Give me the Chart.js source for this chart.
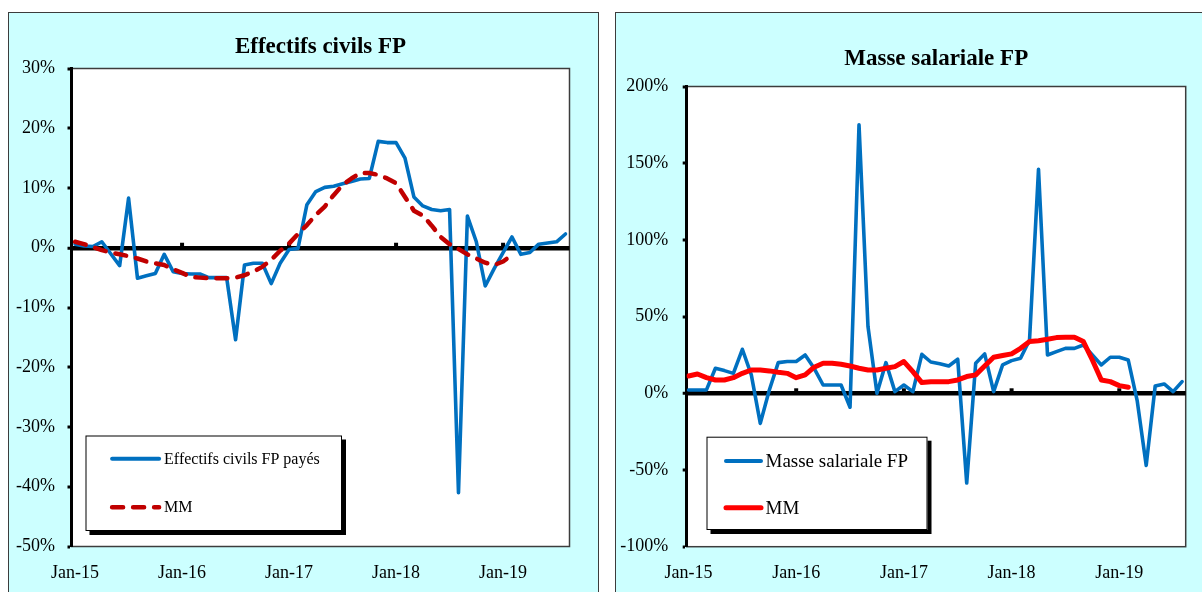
<!DOCTYPE html>
<html>
<head>
<meta charset="utf-8">
<script src="https://cdn.jsdelivr.net/npm/chart.js@4.4.1/dist/chart.umd.min.js"></script>
<style>
  html, body { margin: 0; padding: 0; background: #ffffff; width: 1202px; height: 592px; overflow: hidden; }
  .panel { position: absolute; box-sizing: border-box; border: 1px solid #3c3c3c; background: #ccffff; }
  .panel canvas { position: absolute; left: 0; top: 0; }
</style>
</head>
<body>
<div class="panel" style="left:8px; top:12px; width:591px; height:600px;">
  <canvas id="chartEffectifs" width="589" height="579" style="width:589px;height:579px;"></canvas>
</div>
<div class="panel" style="left:615px; top:12px; width:600px; height:600px;">
  <canvas id="chartMasse" width="586" height="579" style="width:586px;height:579px;"></canvas>
</div>
<script>
// Monthly categories, Jan-2015 to Aug-2019
const months = [
  'Jan-15','Feb-15','Mar-15','Apr-15','May-15','Jun-15','Jul-15','Aug-15','Sep-15','Oct-15','Nov-15','Dec-15',
  'Jan-16','Feb-16','Mar-16','Apr-16','May-16','Jun-16','Jul-16','Aug-16','Sep-16','Oct-16','Nov-16','Dec-16',
  'Jan-17','Feb-17','Mar-17','Apr-17','May-17','Jun-17','Jul-17','Aug-17','Sep-17','Oct-17','Nov-17','Dec-17',
  'Jan-18','Feb-18','Mar-18','Apr-18','May-18','Jun-18','Jul-18','Aug-18','Sep-18','Oct-18','Nov-18','Dec-18',
  'Jan-19','Feb-19','Mar-19','Apr-19','May-19','Jun-19','Jul-19','Aug-19'
];

// Effectifs civils FP payés, y/y change (%)
const effectifs = [
  0.6, 0.3, 0.2, 1.0, -1.0, -3.0, 8.3, -5.1, -4.7, -4.3, -1.1, -4.0,
  -4.3, -4.4, -4.4, -5.0, -5.0, -5.0, -15.4, -2.9, -2.6, -2.6, -6.0, -2.6,
  -0.3, -0.1, 7.2, 9.4, 10.1, 10.3, 10.7, 11.1, 11.5, 11.6, 17.8, 17.6,
  17.6, 15.0, 8.5, 7.0, 6.4, 6.2, 6.4, -41.0, 5.3, 1.0, -6.4, -3.5,
  -0.8, 1.8, -1.1, -0.8, 0.6, 0.8, 1.0, 2.3
];
// Moving average of the series above
const effectifsMM = [
  1.0, 0.6, 0.1, -0.4, -0.8, -1.1, -1.4, -1.8, -2.3, -2.6, -2.9, -3.6,
  -4.2, -4.9, -5.0, -5.1, -5.1, -5.1, -5.0, -4.6, -4.0, -3.2, -2.0, -0.5,
  0.7, 2.3, 3.8, 5.5, 6.9, 8.8, 10.5, 11.6, 12.5, 12.5, 12.2, 11.6,
  10.8, 8.5, 6.2, 5.4, 3.7, 1.8, 0.6, -0.2, -1.1, -1.8, -2.5, -2.9,
  -2.3, -1.2, null, null, null, null, null, null
];

// Masse salariale FP, y/y change (%)
const masse = [
  2.2, 2.2, 2.2, 16.3, 14.8, 13.0, 28.7, 12.0, -19.6, 2.0, 20.0, 20.7,
  20.7, 25.0, 16.3, 5.4, 5.4, 5.4, -9.1, 175.0, 43.5, 0.0, 20.0, 1.1,
  5.4, 1.1, 25.4, 20.4, 19.3, 17.8, 22.2, -58.5, 19.6, 25.7, 1.1, 18.5,
  21.3, 22.8, 34.8, 146.0, 25.0, 27.2, 29.3, 29.3, 31.5, 25.0, 18.5, 23.5,
  23.5, 21.7, -5.0, -47.0, 4.8, 6.1, 1.1, 7.6
];
// Moving average of the series above
const masseMM = [
  11.3, 12.6, 10.2, 8.7, 8.7, 10.2, 13.0, 15.2, 15.2, 14.6, 13.7, 13.0,
  10.2, 12.0, 17.0, 19.6, 19.6, 18.9, 17.8, 16.3, 15.2, 15.2, 16.3, 17.4,
  20.7, 14.1, 7.0, 7.6, 7.6, 7.6, 8.7, 10.9, 12.0, 17.8, 23.5, 24.6,
  25.7, 29.3, 33.7, 34.3, 35.2, 36.3, 36.5, 36.5, 33.7, 21.7, 8.7, 7.6,
  5.0, 3.9, null, null, null, null, null, null
];

// Axis ranges (percent)
const effectifsTicks = { min: -50, max: 30, step: 10 };
const masseTicks = { min: -100, max: 200, step: 50 };

const SERIF = "'Liberation Serif', 'DejaVu Serif', serif";
const yearStarts = months.map((m, i) => m.startsWith('Jan') ? i : -1).filter(i => i >= 0);
const toPoints = vals => vals.map((v, i) => ({ x: i, y: v }));

// White plot area with a thin frame
const plotFrame = {
  id: 'plotFrame',
  beforeDraw(chart) {
    const { ctx, chartArea: a } = chart;
    ctx.save();
    ctx.fillStyle = '#ffffff';
    ctx.fillRect(a.left, a.top, a.right - a.left, a.bottom - a.top);
    ctx.strokeStyle = '#3c3c3c';
    ctx.lineWidth = 1.5;
    ctx.strokeRect(a.left, a.top, a.right - a.left, a.bottom - a.top);
    ctx.restore();
  },
  // small tick marks sitting on the zero line
  beforeDatasetsDraw(chart) {
    const { ctx } = chart;
    const xs = chart.scales.x, ys = chart.scales.y;
    const y0 = ys.getPixelForValue(0);
    ctx.save();
    ctx.fillStyle = '#000';
    xs.ticks.forEach(t => {
      const px = xs.getPixelForValue(t.value);
      if (px > chart.chartArea.left + 5) ctx.fillRect(px - 2, y0 - 5, 4, 5);
    });
    ctx.restore();
  }
};

// Boxed legend with drop shadow, placed inside the plot area
const boxLegend = {
  id: 'boxLegend',
  afterDraw(chart, args, o) {
    const { ctx, chartArea: a } = chart;
    const x = a.left + o.left, y = a.bottom - o.bottom - o.height;
    ctx.save();
    ctx.fillStyle = '#000';
    ctx.fillRect(x + o.shadow, y + o.shadow, o.width, o.height);
    ctx.fillStyle = '#fff';
    ctx.fillRect(x, y, o.width, o.height);
    ctx.strokeStyle = '#000';
    ctx.lineWidth = 1;
    ctx.strokeRect(x + 0.5, y + 0.5, o.width - 1, o.height - 1);
    chart.data.datasets.forEach((ds, i) => {
      const ry = y + o.rows[i];
      ctx.beginPath();
      ctx.setLineDash(ds.borderDash || []);
      ctx.lineCap = ds.borderCapStyle || 'butt';
      ctx.lineWidth = o.sampleWidth[i];
      ctx.strokeStyle = ds.borderColor;
      ctx.moveTo(x + o.sampleFrom, ry);
      ctx.lineTo(x + o.sampleTo, ry);
      ctx.stroke();
      ctx.setLineDash([]);
      ctx.fillStyle = '#000';
      ctx.font = o.fontSize + 'px ' + SERIF;
      ctx.textBaseline = 'middle';
      ctx.textAlign = 'left';
      ctx.fillText(ds.label, x + o.textX, ry + 1);
    });
    ctx.restore();
  }
};

function makeChart(id, cfg) {
  return new Chart(document.getElementById(id), {
    type: 'line',
    data: {
      datasets: [
        {
          label: cfg.mainLabel,
          data: toPoints(cfg.main),
          borderColor: '#0070c0',
          borderWidth: 3.6,
          pointRadius: 0,
          tension: 0,
          borderJoinStyle: 'round',
          borderCapStyle: 'round',
          order: 2
        },
        {
          label: 'MM',
          data: toPoints(cfg.mm),
          borderColor: cfg.mmColor,
          borderWidth: cfg.mmWidth,
          borderDash: cfg.mmDash,
          borderCapStyle: 'round',
          borderJoinStyle: 'round',
          pointRadius: 0,
          tension: 0,
          spanGaps: false,
          order: 1
        }
      ]
    },
    options: {
      responsive: false,
      devicePixelRatio: 1,
      animation: false,
      events: [],
      layout: { padding: { left: 0, right: cfg.padRight, top: 0, bottom: 0 } },
      plugins: {
        legend: { display: false },
        tooltip: { enabled: false },
        title: {
          display: true,
          text: cfg.title,
          fullSize: false,
          color: '#000',
          font: { family: SERIF, size: 23, weight: 'bold' },
          padding: { top: cfg.titleTop, bottom: cfg.titleBottom }
        },
        boxLegend: cfg.legend
      },
      scales: {
        x: {
          type: 'linear',
          min: cfg.xMin,
          max: cfg.xMax,
          afterBuildTicks: s => { s.ticks = yearStarts.map(v => ({ value: v })); },
          afterFit: s => { s.height = cfg.xHeight; },
          grid: { display: false, drawTicks: false },
          border: { display: false },
          ticks: {
            autoSkip: false,
            maxRotation: 0,
            padding: cfg.xPad,
            color: '#000',
            font: { family: SERIF, size: 18 },
            callback: v => months[v]
          }
        },
        y: {
          min: cfg.ticks.min,
          max: cfg.ticks.max,
          afterFit: s => { s.width = cfg.yWidth; },
          border: { display: true, color: '#000', width: 3 },
          grid: {
            color: c => (c.tick && c.tick.value === 0) ? '#000' : 'rgba(0,0,0,0)',
            lineWidth: c => (c.tick && c.tick.value === 0) ? 4.5 : 0,
            drawTicks: true,
            tickLength: 4,
            tickColor: '#000',
            tickWidth: 3
          },
          ticks: {
            stepSize: cfg.ticks.step,
            padding: cfg.yPad,
            color: '#000',
            font: { family: SERIF, size: 18 },
            callback: v => v + '%'
          }
        }
      }
    },
    plugins: [plotFrame, boxLegend]
  });
}

makeChart('chartEffectifs', {
  title: 'Effectifs civils FP',
  mainLabel: 'Effectifs civils FP payés',
  main: effectifs,
  mm: effectifsMM,
  mmColor: '#c00000',
  mmWidth: 4.5,
  mmDash: [11, 10],
  ticks: effectifsTicks,
  xMin: -0.4, xMax: 55.45,
  padRight: 28.5,
  yWidth: 62.5, yPad: 12.5,
  xHeight: 45.5, xPad: 15.5,
  titleTop: 20.2, titleBottom: 7.7,
  legend: {
    left: 14, bottom: 15.5, width: 256.5, height: 95.5, shadow: 4,
    rows: [23.2, 71.7], sampleFrom: 26.6, sampleTo: 73.6, sampleWidth: [4, 4.5],
    textX: 78.6, fontSize: 16
  }
});

makeChart('chartMasse', {
  title: 'Masse salariale FP',
  mainLabel: 'Masse salariale FP',
  main: masse,
  mm: masseMM,
  mmColor: '#ff0000',
  mmWidth: 5,
  mmDash: [],
  ticks: masseTicks,
  xMin: -0.2, xMax: 55.4,
  padRight: 16.3,
  yWidth: 70.7, yPad: 14.4,
  xHeight: 45.3, xPad: 15.5,
  titleTop: 32.2, titleBottom: 13.7,
  legend: {
    left: 19.8, bottom: 16.7, width: 221, height: 93.3, shadow: 4,
    rows: [24.3, 71], sampleFrom: 19.5, sampleTo: 54.5, sampleWidth: [4, 5],
    textX: 59, fontSize: 19
  }
});
</script>
</body>
</html>
